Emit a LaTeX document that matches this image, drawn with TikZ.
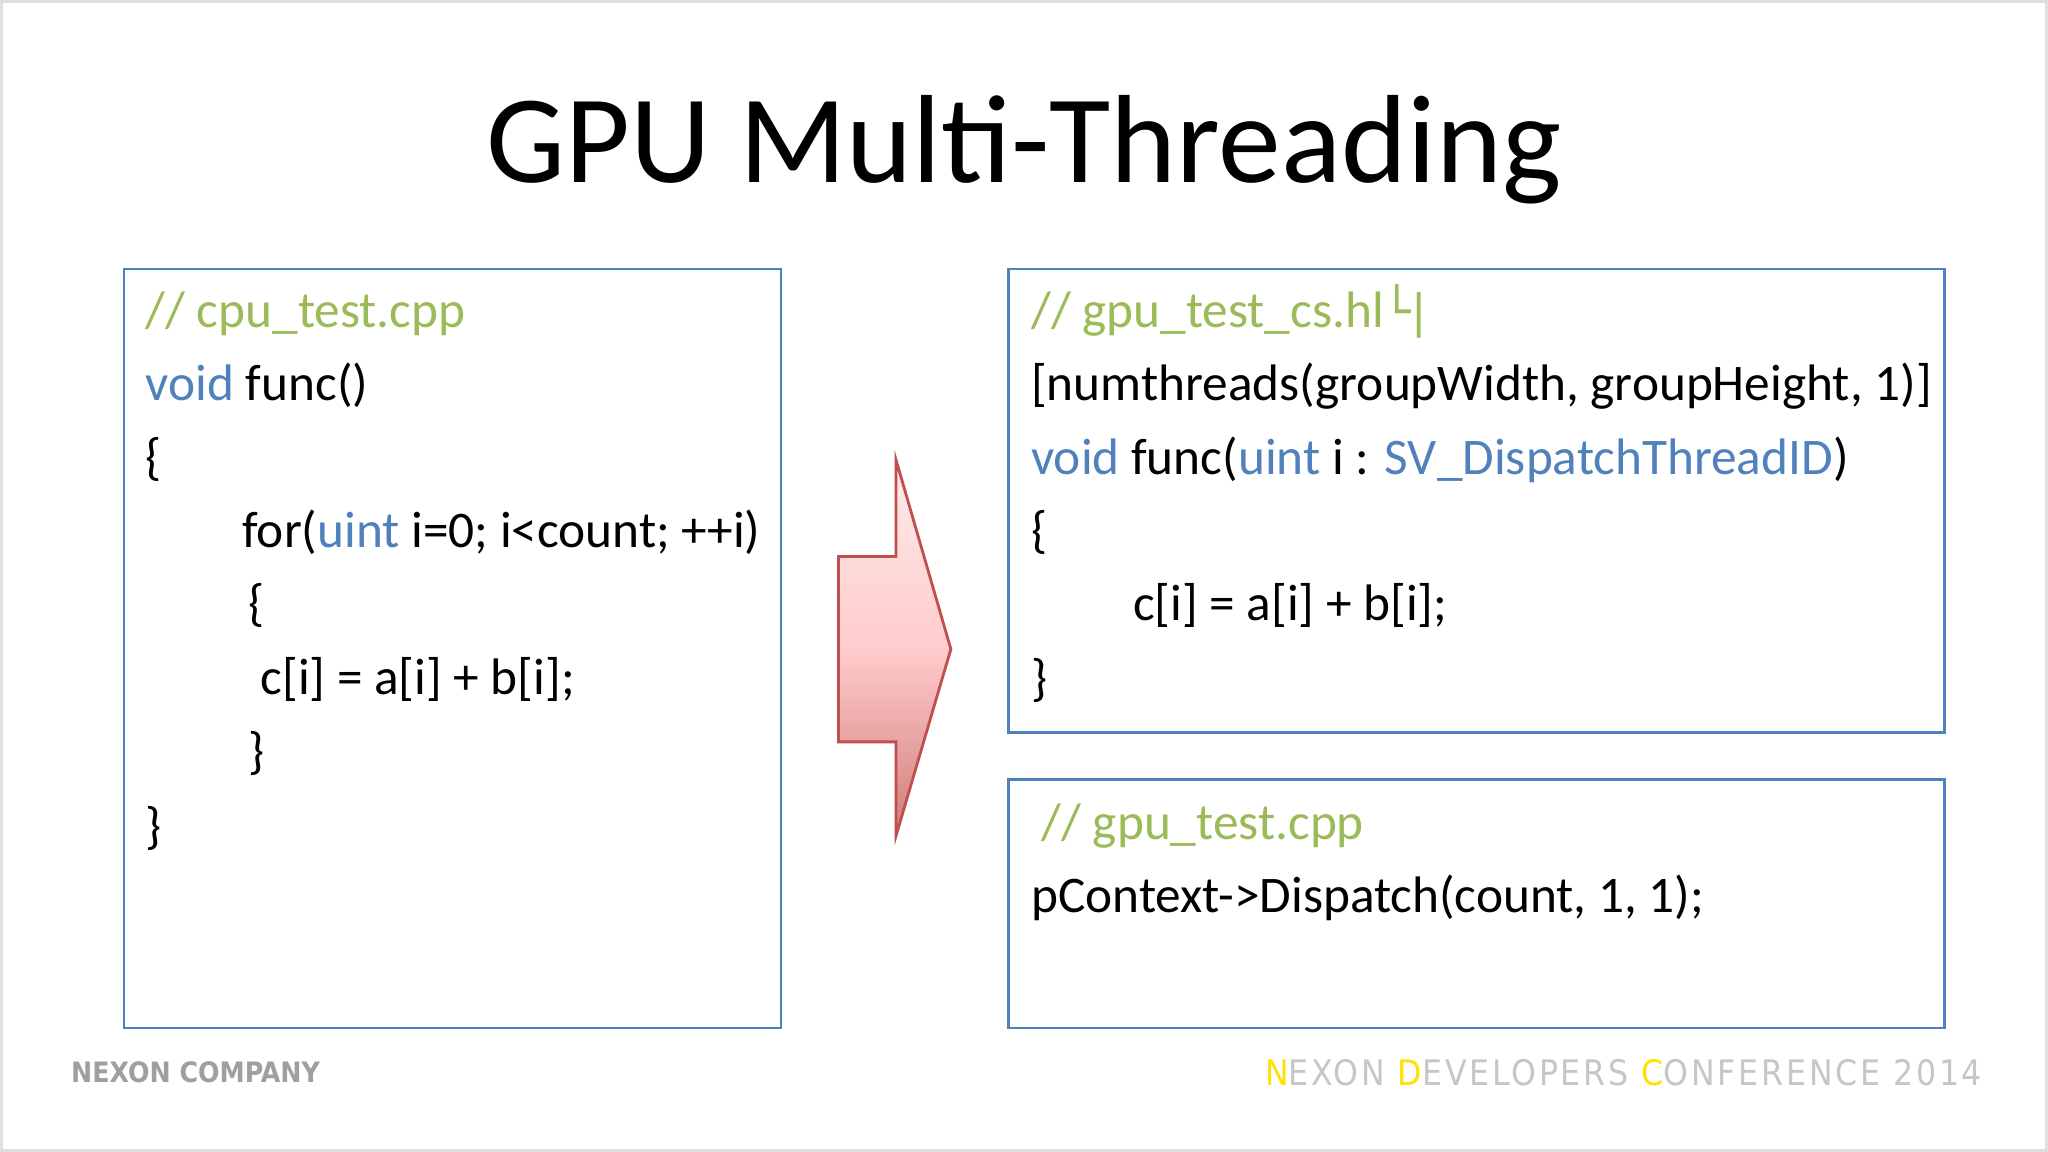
\documentclass[tikz,border=0pt]{standalone}
\usepackage{fontspec}
\setmainfont{Carlito}
\newfontfamily\dv{DejaVu Sans}
\newfontfamily\foot{DejaVu Sans Condensed}
\definecolor{cgreen}{HTML}{9BBB59}
\definecolor{cblue}{HTML}{4F81BD}
\definecolor{abord}{HTML}{C0504D}
\begin{document}
\begin{tikzpicture}[x=0.013061cm,y=-0.013061cm,
  code/.style={anchor=mid west,inner sep=0pt,font=\fontsize{14.6}{17}\selectfont},
  box/.style={draw=cblue,line width=0.8pt}]
\useasboundingbox (0,0) rectangle (1568,882);
\fill[white] (0,0) rectangle (1568,882);
\draw[gray!25,line width=1pt] (1,1) rectangle (1567,881);
\node[inner sep=0pt,font=\fontsize{35.7}{40}\selectfont] (title) at (784,115) {GPU Multi-Threading};
% boxes
\draw[box] (95,206) rectangle (598,787);
\draw[box] (772,206) rectangle (1489,561);
\draw[box] (772,597) rectangle (1489,787);
% left code
\node[code] (l1) at (111,244) {{\color{cgreen}// cpu\_test.cpp}};
\node[code] (l2) at (111,300) {{\color{cblue}void} func()};
\node[code] (l3) at (111,357) {\{};
\node[code] (l4) at (185,413) {for({\color{cblue}uint} i=0; i<count; ++i)};
\node[code] (l5) at (190,469) {\{};
\node[code] (l6) at (199,525) {c[i] = a[i] + b[i];};
\node[code] (l7) at (190,582) {\}};
\node[code] (l8) at (111,639) {\}};
% right top
\node[code] (r1) at (789,244) {{\color{cgreen}// gpu\_test\_cs.hl{\dv\fontsize{13}{15}\selectfont └|}}};
\node[code] (r2) at (789,300) {[numthreads(groupWidth, groupHeight, 1)]};
\node[code] (r3) at (789,357) {{\color{cblue}void} func({\color{cblue}uint} i : {\color{cblue}SV\_DispatchThreadID})};
\node[code] (r4) at (789,413) {\{};
\node[code] (r5) at (867,469) {c[i] = a[i] + b[i];};
\node[code] (r6) at (789,526) {\}};
% right bottom
\node[code] (b1) at (797,636) {{\color{cgreen}// gpu\_test.cpp}};
\node[code] (b2) at (789,692) {pContext->Dispatch(count, 1, 1);};
% arrow
\draw[abord,line width=0.8pt,top color=red!8,bottom color=abord!75!white,middle color=red!20]
  (642,426) -- (686,426) -- (686,352) -- (728,497) -- (686,640) -- (686,568) -- (642,568) -- cycle;
% footer
\node[anchor=west,inner sep=0pt,font=\foot\bfseries\fontsize{8}{9}\selectfont,text=gray!75] (f1) at (54,821) {NEXON COMPANY};
\node[anchor=west,inner sep=0pt,font=\foot\fontsize{10}{12}\selectfont\addfontfeatures{LetterSpace=8},text=gray!45] (f2) at (968,821)
 {{\color{yellow!85!orange}N}EXON {\color{yellow!85!orange}D}EVELOPERS {\color{yellow!85!orange}C}ONFERENCE 2014};
\end{tikzpicture}
\end{document}
